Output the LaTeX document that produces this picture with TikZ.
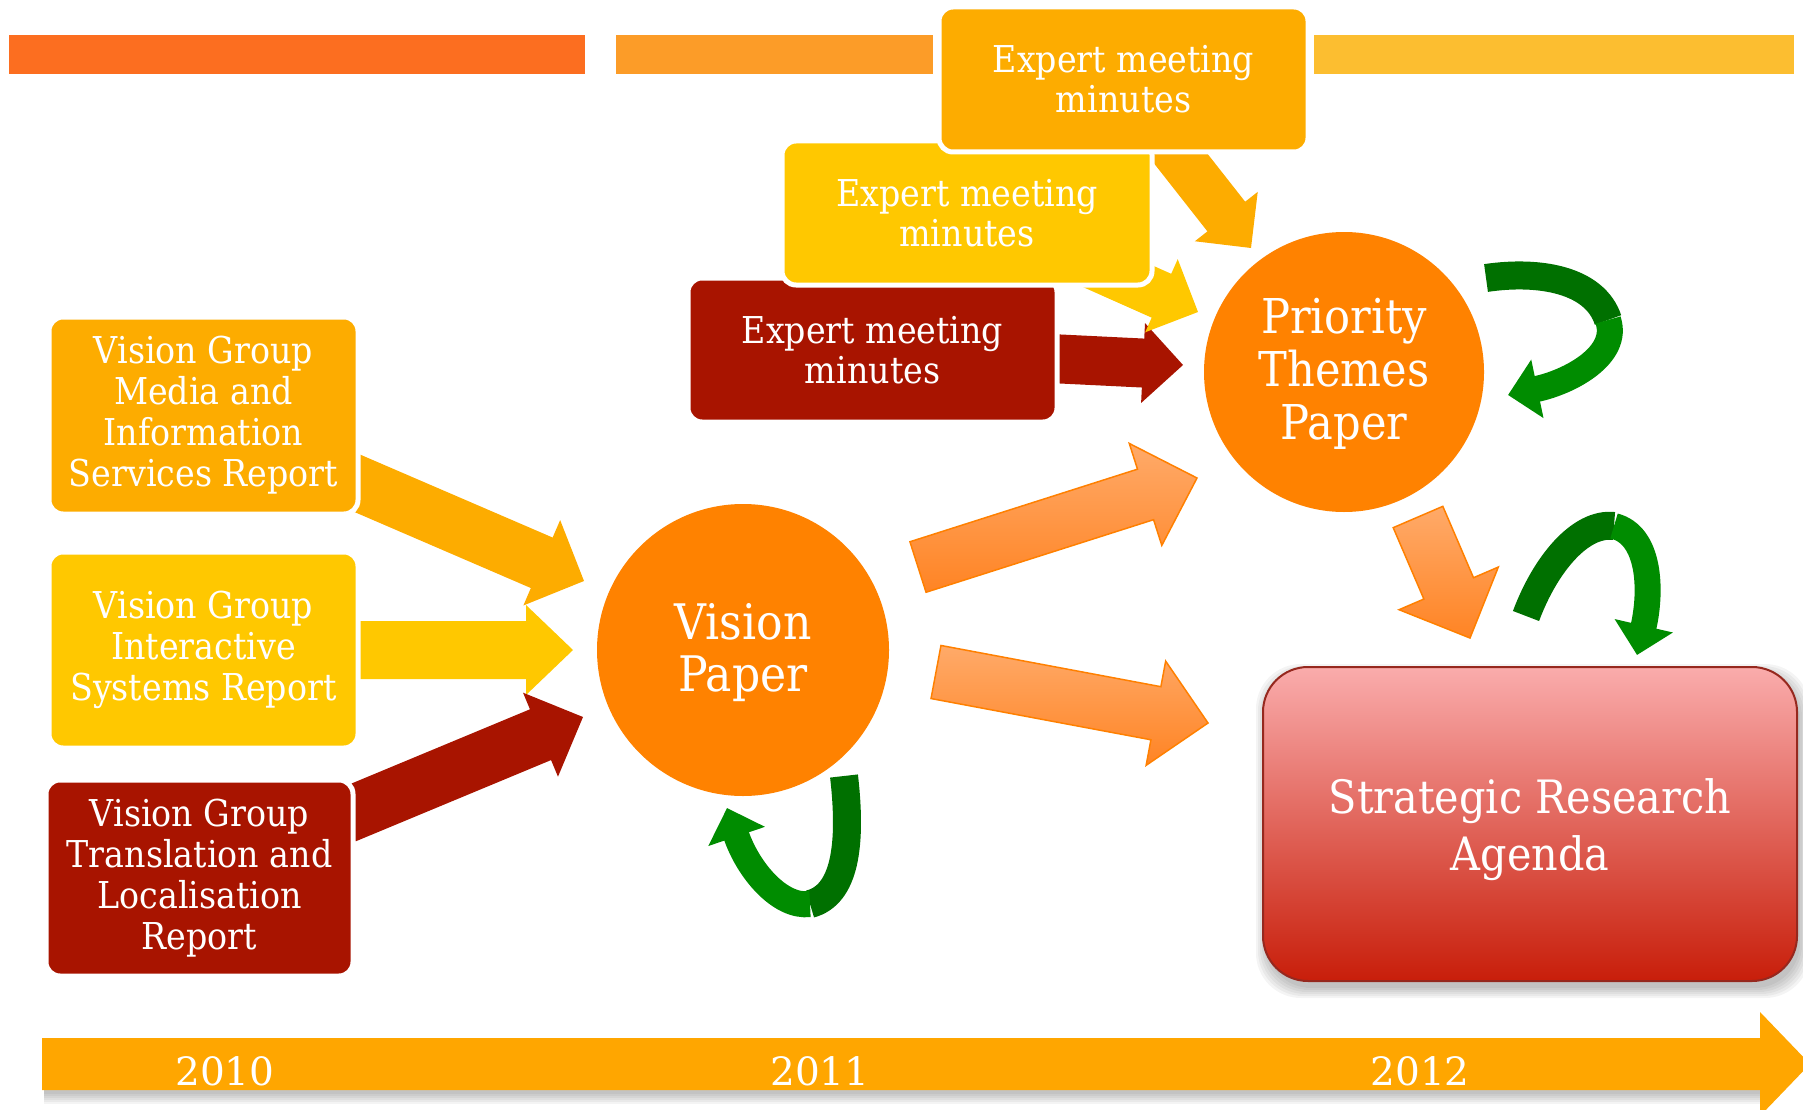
\documentclass[tikz,border=0pt]{standalone}
\usepackage{fontspec}
\setmainfont{DejaVu Serif Condensed}
\newfontfamily\yearfont{DejaVu Serif}
\usetikzlibrary{calc,arrows.meta}
\definecolor{barA}{RGB}{252,110,32}
\definecolor{barB}{RGB}{252,156,40}
\definecolor{barC}{RGB}{252,190,48}
\definecolor{gold}{RGB}{253,172,0}
\definecolor{yel}{RGB}{255,200,0}
\definecolor{dred}{RGB}{168,20,0}
\definecolor{orng}{RGB}{255,130,0}
\definecolor{timeline}{RGB}{255,166,0}
\definecolor{arrL}{RGB}{255,170,105}
\definecolor{arrD}{RGB}{255,132,36}
\definecolor{arrEdge}{RGB}{255,128,0}
\definecolor{gDark}{RGB}{0,112,0}
\definecolor{gLight}{RGB}{0,140,0}
\definecolor{srTop}{RGB}{250,172,172}
\definecolor{srMid}{RGB}{226,100,95}
\definecolor{srBot}{RGB}{200,30,10}
\definecolor{srEdge}{RGB}{150,40,30}
% #1 style, #2 tail, #3 tip, #4 half shaft, #5 half head, #6 head length (number)
\newcommand{\blockarrow}[6][]{%
  \path[#1] let \p1=($(#3)-(#2)$), \n1={atan2(\y1,\x1)}, \n2={veclen(\x1,\y1)-#6} in
    ($(#2)+(\n1+90:#4)$) -- ($(#2)+(\n1:\n2)+(\n1+90:#4)$) -- ($(#2)+(\n1:\n2)+(\n1+90:#5)$)
    -- (#3) -- ($(#2)+(\n1:\n2)+(\n1-90:#5)$) -- ($(#2)+(\n1:\n2)+(\n1-90:#4)$)
    -- ($(#2)+(\n1-90:#4)$) -- cycle;}
\begin{document}
\begin{tikzpicture}[x=1pt,y=-1pt,
  box/.style={rounded corners=14pt, draw=white, line width=5pt, text=white, align=center,
    inner sep=0pt, font=\fontsize{37}{41}\selectfont},
  expert/.style={box, font=\fontsize{37}{40}\selectfont},
  paper/.style={circle, fill=orng, text=white, align=center, inner sep=0pt},
  garrow/.style={draw=arrEdge, line width=1.5pt, top color=arrL, bottom color=arrD},
  darkband/.style={line width=28pt, draw=gDark},
  lightband/.style={line width=26pt, draw=gLight, -{Triangle[width=58pt,length=30pt]}},
  softshadow/.style={black, opacity=0.045},
  year/.style={text=white, font=\yearfont\fontsize{39}{40}\selectfont, inner sep=0pt}]
\useasboundingbox (0,0) rectangle (1803,1110);

% top period bars
\fill[barA] (9,35) rectangle (585,74);
\fill[barB] (616,35) rectangle (933,74);
\fill[barC] (1314,35) rectangle (1794,74);

% timeline arrow
\foreach \d in {0,2,...,10}
  \fill[softshadow] (44,1046) rectangle (1762,1094+\d);
\fill[timeline] (42,1038) -- (1760,1038) -- (1760,1012) -- (1810,1064) -- (1760,1116) -- (1760,1090) -- (42,1090) -- cycle;
\node[year] (y10) at (225,1071) {2010};
\node[year] (y11) at (820,1071) {2011};
\node[year] (y12) at (1420,1071) {2012};

% arrow anchor coordinates
\coordinate (aAt) at (345,478);   \coordinate (aAh) at (584,581);
\coordinate (aBt) at (345,650);   \coordinate (aBh) at (573,650);
\coordinate (aCt) at (345,816);   \coordinate (aCh) at (583,717);
\coordinate (vpPt) at (918,567);  \coordinate (vpPh) at (1197,478);
\coordinate (vpSt) at (936,672);  \coordinate (vpSh) at (1208,723);
\coordinate (ptSt) at (1418,517); \coordinate (ptSh) at (1470,638);
\coordinate (eRt) at (1040,358);  \coordinate (eRh) at (1183,365);
\coordinate (eYt) at (1043,243);  \coordinate (eYh) at (1198,312);
\coordinate (eGt) at (1152,122);  \coordinate (eGh) at (1251,248);

% arrows into Vision Paper
\blockarrow[fill=gold]{aAt}{aAh}{27.5pt}{46.5pt}{46}
\blockarrow[fill=yel]{aBt}{aBh}{29pt}{45pt}{47}
\blockarrow[fill=dred]{aCt}{aCh}{27.5pt}{45.5pt}{46}

% expert arrows into Priority Themes Paper
\blockarrow[fill=dred]{eRt}{eRh}{24.5pt}{40pt}{40}
\blockarrow[fill=yel]{eYt}{eYh}{24pt}{40pt}{40}
\blockarrow[fill=gold]{eGt}{eGh}{24pt}{40pt}{40}

% gradient arrows
\blockarrow[garrow]{vpPt}{vpPh}{26.5pt}{53.5pt}{54}
\blockarrow[garrow]{vpSt}{vpSh}{27pt}{53pt}{53}
\blockarrow[garrow]{ptSt}{ptSh}{27pt}{54pt}{54}

% left report boxes
\node[box, fill=gold, minimum width=309, minimum height=197] (vgA) at (203.5,415.5)
  {Vision Group\\Media and\\Information\\Services Report};
\node[box, fill=yel, minimum width=309, minimum height=196] (vgB) at (203.5,650)
  {Vision Group\\Interactive\\Systems Report};
\node[box, fill=dred, minimum width=307, minimum height=196] (vgC) at (199.5,878)
  {Vision Group\\Translation and\\Localisation\\Report};

% expert meeting boxes
\node[expert, fill=dred, minimum width=369, minimum height=144] (exR) at (872.5,350)
  {Expert meeting\\minutes};
\node[expert, fill=yel, minimum width=370, minimum height=144] (exY) at (967,213)
  {Expert meeting\\minutes};
\node[expert, fill=gold, minimum width=369, minimum height=145] (exG) at (1123.5,79.5)
  {Expert meeting\\minutes};

% papers
\node[paper, minimum size=292, font=\fontsize{49}{52}\selectfont] (vp) at (743,650) {};
\node[text=white, align=center, font=\fontsize{49}{52}\selectfont, inner sep=0pt] at (743,653)
  {Vision\\Paper};
\node[paper, minimum size=280, font=\fontsize{48}{53}\selectfont] (ptp) at (1344,372) {};
\node[text=white, align=center, font=\fontsize{48}{53}\selectfont, inner sep=0pt] at (1344,374)
  {Priority\\Themes\\Paper};

% strategic research agenda
\foreach \d in {0,2,...,10}
  \fill[softshadow, rounded corners=45pt] (1266-\d,674-\d) rectangle (1800+\d,988+\d);
\node[rounded corners=45pt, draw=srEdge, line width=2pt, top color=srTop, middle color=srMid,
  bottom color=srBot, minimum width=534, minimum height=314] (sra) at (1530,824) {};
\node[text=white, align=center, font=\fontsize{46}{57}\selectfont, inner sep=0pt] at (1530,830)
  {Strategic Research\\Agenda};

% green loop arrows
\coordinate (g1a) at (844,776);  \coordinate (g1b) at (810,904);  \coordinate (g1c) at (727,808);
\coordinate (g2a) at (1486,278); \coordinate (g2b) at (1608,320); \coordinate (g2c) at (1508,395);
\coordinate (g3a) at (1526,616); \coordinate (g3b) at (1614,526); \coordinate (g3c) at (1637,655);
\draw[darkband] (g1a) .. controls (852,845) and (845,895) .. (g1b);
\draw[lightband] (g1b) .. controls (780,908) and (748,870) .. (g1c);
\draw[darkband] (g2a) .. controls (1540,270) and (1595,280) .. (g2b);
\draw[lightband] (g2b) .. controls (1620,355) and (1570,382) .. (g2c);
\draw[darkband] (g3a) .. controls (1545,565) and (1580,522) .. (g3b);
\draw[lightband] (g3b) .. controls (1650,535) and (1652,590) .. (g3c);
\end{tikzpicture}
\end{document}
